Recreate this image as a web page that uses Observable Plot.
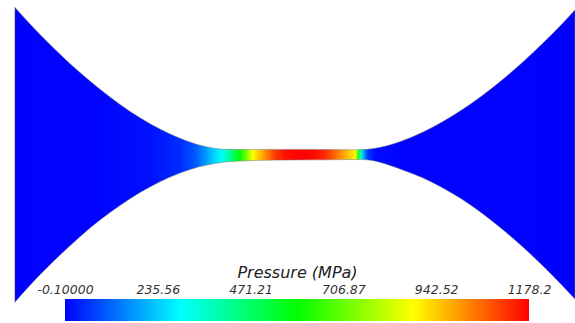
<!DOCTYPE html>
<html><head><meta charset="utf-8">
<script src="https://cdn.jsdelivr.net/npm/d3@7"></script>
<script src="https://cdn.jsdelivr.net/npm/@observablehq/plot@0.6"></script>
<style>
body{margin:0;background:#fff;}
#wrap{position:relative;width:575px;height:323px;overflow:hidden;background:#fff;}
#wrap svg{display:block;}
#cbar{position:absolute;left:0;top:258px;}
</style>
</head><body>
<div id="wrap"><div id="main"></div><div id="cbar"></div></div>
<script>
// Gap geometry (position along contact, µm-like units; film boundary heights)
const gapX      = [-280,-255,-235,-215,-195,-175,-155,-135,-115,-95,-80,-70,-55,-35,0,35,55,67,77,92,107,127,147,167,187,207,227,247,267,280];
const gapTop    = [147.5,120.5,100.8,82.4,65.7,50.6,37.3,25.9,16.7,9.8,6.6,5.7,5.6,5.6,5.6,5.5,5.2,5.4,6.3,9.3,14.1,22.4,32.9,45.2,59.2,74.9,92.2,110.9,131.1,145];
const gapBottom = [-147,-119.8,-100.1,-81.7,-65,-50.4,-37.6,-26.7,-18,-11.6,-8.4,-7,-6,-5.3,-5,-4.8,-4.5,-4.6,-5.4,-9.4,-14.7,-22.5,-32.5,-44.3,-58.3,-74,-91.3,-110,-130.2,-144.1];

// Pressure profile along the contact (MPa)
const presX   = [-280,-195,-145,-115,-100,-90,-80,-73,-65,-55,-48,-42,-35,-28,-20,-10,5,20,30,40,50,57,61,63,66,69,73,80,105,280];
const presVal = [0,5,20,50,100,170,250,300,420,589,740,880,960,1030,1110,1160,1178,1165,1130,1060,980,920,880,620,350,180,60,15,3,0];

// Colour bar
const pMin = -0.1, pMax = 1178.2;
const tickValues = [-0.1, 235.56, 471.21, 706.87, 942.52, 1178.2];
const tickLabels = ["-0.10000", "235.56", "471.21", "706.87", "942.52", "1178.2"];
const colorStops = ["#0000ff", "#00ffff", "#00ff00", "#ffff00", "#ff0000"];
const barTitle = "Pressure (MPa)";

const color = Plot.scale({color: {type: "linear", domain: [pMin, pMax], interpolate: d3.piecewise(d3.interpolateRgb, colorStops)}});

const gap = gapX.map((x, i) => ({x, top: gapTop[i], bottom: gapBottom[i]}));

const main = Plot.plot({
  width: 575, height: 323,
  marginLeft: 15, marginRight: 0, marginTop: 0, marginBottom: 0,
  x: {domain: [-280, 280], axis: null},
  y: {domain: [-168, 155], axis: null},
  marks: [
    Plot.areaY(gap, {x: "x", y1: "bottom", y2: "top", fill: "url(#pressureGrad)", stroke: "#777", strokeWidth: 0.5, curve: "monotone-x"})
  ]
});
function addGradient(svg, id, x1, x2, stops) {
  const ns = "http://www.w3.org/2000/svg";
  const defs = document.createElementNS(ns, "defs");
  const g = document.createElementNS(ns, "linearGradient");
  g.setAttribute("id", id);
  g.setAttribute("gradientUnits", "userSpaceOnUse");
  g.setAttribute("x1", x1); g.setAttribute("x2", x2);
  g.setAttribute("y1", 0); g.setAttribute("y2", 0);
  for (const s of stops) {
    const st = document.createElementNS(ns, "stop");
    st.setAttribute("offset", s.offset);
    st.setAttribute("stop-color", s.color);
    g.appendChild(st);
  }
  defs.appendChild(g);
  svg.insertBefore(defs, svg.firstChild);
}
{
  const xs = main.scale("x");
  const a = xs.apply(presX[0]), b = xs.apply(presX[presX.length - 1]);
  addGradient(main, "pressureGrad", a, b, presX.map((x, i) => ({offset: (xs.apply(x) - a) / (b - a), color: color.apply(presVal[i])})));
}
document.getElementById("main").appendChild(main);

const cbar = Plot.plot({
  width: 575, height: 65,
  marginLeft: 65, marginRight: 46, marginTop: 41, marginBottom: 2,
  style: {fontFamily: "DejaVu Sans", fontStyle: "italic", color: "#333", background: "transparent"},
  x: {domain: [pMin, pMax], axis: null},
  y: {domain: [0, 1], axis: null},
  marks: [
    Plot.rect([{x1: pMin, x2: pMax}], {x1: "x1", x2: "x2", y1: 0, y2: 1, fill: "url(#barGrad)"}),
    Plot.text(tickValues, {x: d => d, text: (d, i) => tickLabels[i], frameAnchor: "top", lineAnchor: "bottom", dy: -6, fontSize: 12.5, fill: "#333"}),
    Plot.text([barTitle], {frameAnchor: "top", lineAnchor: "bottom", dy: -22, fontSize: 16, fill: "#222"})
  ]
});
{
  const xs = cbar.scale("x");
  const a = xs.apply(pMin), b = xs.apply(pMax);
  addGradient(cbar, "barGrad", a, b, colorStops.map((c, i) => {
    const v = pMin + (pMax - pMin) * i / (colorStops.length - 1);
    return {offset: (xs.apply(v) - a) / (b - a), color: color.apply(v)};
  }));
}
document.getElementById("cbar").appendChild(cbar);
</script>
</body></html>
